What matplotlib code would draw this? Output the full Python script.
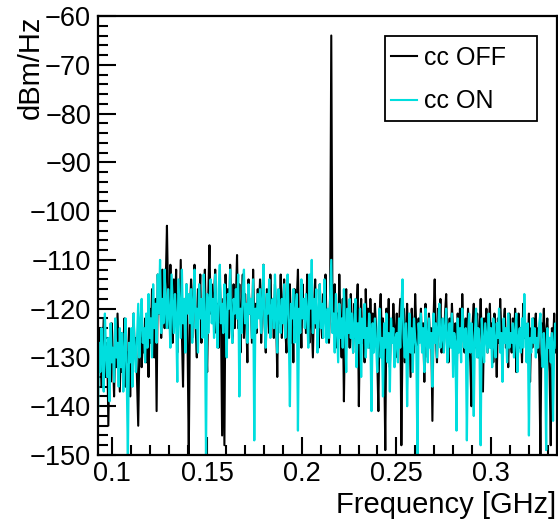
import numpy as np
import matplotlib
matplotlib.use("Agg")
import matplotlib.pyplot as plt
from matplotlib.ticker import MultipleLocator
from matplotlib.patches import Rectangle

plt.rcParams['font.family'] = ['Liberation Sans', 'DejaVu Sans']

f_start = 0.0925
f_stop = 0.3345

cc_off = [
    -126, -133, -124, -136, -129, -122, -134, -131, -127, -144, -128, -135, -123, -130, -138, -126, -132, -121, -129, -137,
    -125, -133, -128, -122, -136, -129, -131, -124, -138, -127, -133, -121, -130, -126, -135, -144, -128, -123, -132, -126,
    -129, -122, -131, -125, -134, -120, -127, -116, -124, -130, -118, -141, -113, -121, -115, -126, -112, -119, -124, -114,
    -103, -118, -124, -111, -121, -127, -114, -120, -112, -129, -117, -123, -110, -125, -136, -118, -122, -115, -128, -150,
    -121, -114, -126, -118, -111, -124, -130, -116, -120, -113, -127, -119, -122, -112, -125, -133, -117, -107, -121, -115,
    -123, -117, -112, -125, -119, -128, -114, -121, -146, -118, -148, -113, -122, -116, -126, -111, -120, -127, -115, -124,
    -118, -109, -124, -115, -129, -120, -113, -126, -117, -122, -131, -114, -121, -118, -127, -112, -123, -119, -125, -116,
    -121, -114, -127, -118, -111, -123, -129, -116, -120, -125, -113, -122, -118, -126, -115, -121, -134, -117, -123, -113,
    -126, -119, -114, -124, -129, -117, -122, -115, -127, -120, -131, -116, -123, -118, -112, -125, -121, -128, -115, -122,
    -118, -125, -113, -121, -127, -116, -123, -130, -119, -114, -124, -120, -128, -115, -122, -126, -117, -121, -113, -125,
    -121, -127, -117, -64, -119, -124, -115, -128, -121, -126, -113, -123, -130, -118, -139, -122, -116, -125, -120, -128,
    -117, -124, -129, -119, -126, -121, -115, -140, -123, -118, -127, -122, -131, -116, -124, -120, -128, -118, -125, -121,
    -127, -119, -124, -130, -141, -121, -117, -126, -122, -129, -149, -120, -125, -118, -132, -123, -127, -119, -124, -130,
    -121, -128, -123, -118, -148, -126, -120, -131, -124, -119, -127, -122, -134, -120, -125, -129, -117, -124, -130, -122,
    -126, -120, -128, -123, -135, -119, -125, -130, -121, -127, -124, -143, -122, -114, -126, -131, -120, -125, -118, -129,
    -123, -128, -121, -117, -126, -131, -122, -127, -119, -125, -130, -123, -137, -121, -126, -120, -128, -117, -124, -129,
    -122, -127, -120, -126, -131, -140, -123, -119, -128, -124, -121, -130, -125, -118, -127, -137, -122, -126, -120, -129,
    -124, -119, -128, -123, -131, -121, -126, -134, -122, -127, -118, -125, -130, -123, -120, -128, -125, -132, -121, -126,
    -129, -122, -127, -120, -133, -125, -121, -128, -124, -131, -119, -126, -123, -130, -127, -121, -135, -124, -128, -122,
    -126, -121, -129, -124, -131, -150, -123, -127, -120, -130, -125, -122, -128, -133, -148, -124, -127, -121, -129, -125,
]

cc_on = [
    -141, -127, -133, -124, -130, -137, -121, -129, -134, -126, -139, -123, -131, -128, -135, -122, -130, -127, -136, -124,
    -132, -125, -137, -129, -122, -134, -150, -127, -131, -124, -136, -121, -129, -133, -126, -119, -130, -123, -118, -127,
    -124, -131, -121, -128, -117, -126, -122, -130, -115, -124, -119, -127, -113, -121, -110, -125, -118, -123, -112, -120,
    -124, -116, -121, -128, -113, -119, -125, -117, -122, -135, -114, -120, -126, -112, -123, -118, -129, -115, -121, -117,
    -123, -116, -127, -119, -112, -124, -120, -129, -115, -122, -118, -126, -113, -121, -150, -117, -125, -119, -114, -123,
    -118, -126, -113, -121, -128, -116, -111, -123, -119, -125, -115, -122, -130, -117, -120, -112, -124, -127, -118, -121,
    -116, -122, -113, -138, -120, -125, -117, -112, -123, -119, -127, -115, -121, -118, -126, -114, -147, -120, -124, -117,
    -122, -116, -125, -119, -111, -123, -128, -117, -121, -114, -126, -120, -118, -124, -113, -122, -129, -116, -120, -125,
    -118, -123, -115, -126, -120, -113, -124, -140, -119, -122, -116, -127, -121, -117, -145, -120, -125, -114, -122, -118,
    -124, -117, -121, -128, -113, -120, -110, -125, -118, -123, -116, -129, -121, -115, -124, -119, -126, -114, -122, -127,
    -120, -126, -118, -110, -125, -121, -129, -117, -124, -131, -119, -126, -122, -128, -116, -124, -133, -120, -125, -118,
    -126, -121, -129, -124, -118, -132, -123, -127, -120, -134, -122, -126, -119, -130, -124, -128, -121, -125, -141, -123,
    -129, -122, -127, -133, -124, -120, -130, -126, -138, -123, -128, -121, -131, -125, -137, -122, -127, -124, -132, -126,
    -125, -131, -122, -128, -120, -114, -126, -130, -123, -140, -127, -121, -129, -124, -133, -122, -126, -128, -150, -123,
    -127, -121, -129, -124, -133, -120, -126, -131, -122, -128, -125, -136, -121, -127, -123, -130, -124, -119, -128, -126,
    -122, -129, -124, -120, -131, -126, -123, -128, -121, -134, -125, -127, -145, -122, -129, -124, -131, -120, -126, -128,
    -124, -147, -126, -121, -129, -123, -127, -142, -125, -120, -130, -124, -128, -148, -122, -127, -131, -123, -126, -129,
    -121, -128, -124, -132, -122, -127, -130, -123, -126, -120, -129, -125, -135, -122, -127, -124, -131, -121, -128, -125,
    -127, -123, -130, -125, -121, -133, -126, -124, -129, -122, -128, -117, -125, -131, -123, -146, -126, -129, -122, -127,
    -124, -130, -126, -128, -123, -121, -127, -132, -125, -129, -149, -124, -128, -126, -131, -125, -143, -127, -123, -128,
]

freq = np.linspace(f_start, f_stop, len(cc_off))

x_ticks = [0.1, 0.15, 0.2, 0.25, 0.3]
x_ticklabels = ["0.1", "0.15", "0.2", "0.25", "0.3"]
y_ticks = [-150, -140, -130, -120, -110, -100, -90, -80, -70, -60]

fig = plt.figure(figsize=(5.58, 5.23), dpi=100)
ax = fig.add_axes([98 / 558, 1 - 455 / 523, 458.5 / 558, 439 / 523])

ax.plot(freq, cc_off, color='black', lw=1.5, label='cc OFF')
ax.plot(freq, cc_on, color='#00dede', lw=1.6, label='cc ON')

ax.set_xlim(f_start, f_stop)
ax.set_ylim(-150, -60)
ax.set_xticks(x_ticks)
ax.set_xticklabels(x_ticklabels)
ax.set_yticks(y_ticks)
ax.xaxis.set_minor_locator(MultipleLocator(0.01))
ax.yaxis.set_minor_locator(MultipleLocator(2))

ax.tick_params(axis='both', which='major', direction='in', length=13, width=1.5,
               labelsize=19.5, top=False, right=False)
ax.tick_params(axis='both', which='minor', direction='in', length=7, width=1.5,
               top=False, right=False)
ax.tick_params(axis='y', which='major', pad=5)
ax.tick_params(axis='x', which='major', pad=4)
for s in ax.spines.values():
    s.set_linewidth(1.6)

ax.set_xlabel('Frequency [GHz]', fontsize=21, loc='right')
ax.xaxis.set_label_coords(1.0, -0.082)
ax.set_ylabel('dBm/Hz', fontsize=21, loc='top')
ax.yaxis.set_label_coords(-0.116, 1.0)

# legend box (ROOT style: wide frame)
ax.add_patch(Rectangle(((385 - 98) / 458.5, (455 - 121) / 439), 152 / 458.5, 85 / 439,
                       transform=ax.transAxes, facecolor='white', edgecolor='black',
                       lw=1.3, zorder=4))
leg = ax.legend(loc='upper left', bbox_to_anchor=((391 - 98) / 458.5, (455 - 46) / 439),
                fontsize=18, frameon=False, handlelength=1.05, handletextpad=0.25,
                borderpad=0, labelspacing=0.78, borderaxespad=0)
leg.set_zorder(5)
for line in leg.get_lines():
    line.set_linewidth(1.5)

fig.savefig('out.png', dpi=100)
